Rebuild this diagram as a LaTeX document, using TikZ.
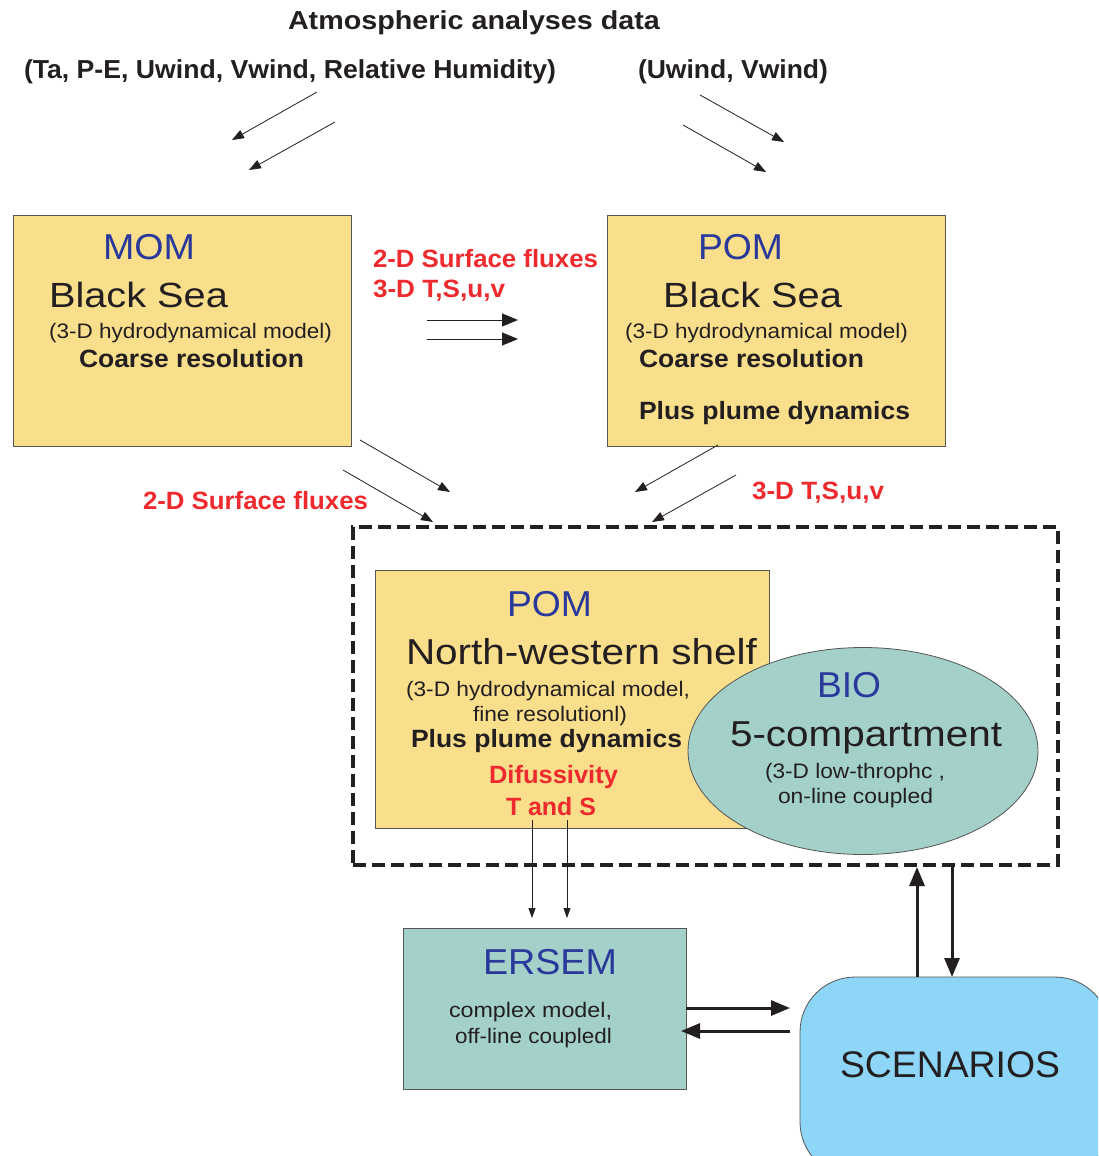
\documentclass[tikz,border=0pt]{standalone}
\usepackage{fontspec}
\setmainfont{Liberation Sans}
\usetikzlibrary{arrows.meta,shapes.geometric}
\definecolor{yfill}{HTML}{F9DE8C}
\definecolor{tfill}{HTML}{A3D0C9}
\definecolor{sfill}{HTML}{8DD6F7}
\definecolor{tblue}{HTML}{29399B}
\definecolor{tred}{HTML}{EE2A2E}
\definecolor{tblack}{HTML}{231F20}
\definecolor{edge}{HTML}{555555}
\newcommand\fw[2]{\resizebox{#1pt}{\height}{#2}}
\tikzset{
  txt/.style={anchor=base west, inner sep=0pt, outer sep=0pt, text=tblack},
  hb/.style={txt, font=\fontsize{26}{30}\selectfont\bfseries},
  hm/.style={txt, font=\fontsize{25}{30}\selectfont\bfseries},
  rb/.style={hm, text=tred},
  bl/.style={txt, text=tblue, font=\fontsize{36}{40}\selectfont},
  lg/.style={txt, font=\fontsize{35}{40}\selectfont},
  sm/.style={txt, font=\fontsize{21}{24}\selectfont},
  boxy/.style={draw=edge, line width=0.8pt, fill=yfill, inner sep=0pt, outer sep=0pt},
  boxt/.style={draw=edge, line width=0.8pt, fill=tfill, inner sep=0pt, outer sep=0pt},
  thin/.style={draw=tblack, line width=0.8pt, -{Triangle[length=12pt,width=9pt]}},
  thinv/.style={draw=tblack, line width=0.8pt, -{Triangle[length=10pt,width=7pt]}},
  mid/.style={draw=tblack, line width=1pt, -{Triangle[length=16pt,width=13pt]}},
  thick/.style={draw=tblack, line width=3pt, -{Triangle[length=19pt,width=15pt]}},
}
\begin{document}
\begin{tikzpicture}[x=1pt,y=-1pt]
\useasboundingbox (0,0) rectangle (1098,1156);
\clip (0,0) rectangle (1098,1156);
\fill[white] (0,0) rectangle (1098,1156);

% header
\node[hb] (title) at (288,30) {\fw{372}{Atmospheric analyses data}};
\node[hb] (vars1) at (24,78) {\fw{532}{(Ta, P-E, Uwind, Vwind, Relative Humidity)}};
\node[hb] (vars2) at (638,78) {\fw{190}{(Uwind, Vwind)}};

% top arrows
\coordinate (a1s) at (317,92);  \coordinate (a1e) at (232,140);
\coordinate (a2s) at (335,122); \coordinate (a2e) at (249,170);
\coordinate (a3s) at (700,95);  \coordinate (a3e) at (784,142);
\coordinate (a4s) at (683,125); \coordinate (a4e) at (766,172);
\draw[thin] (a1s) -- (a1e);
\draw[thin] (a2s) -- (a2e);
\draw[thin] (a3s) -- (a3e);
\draw[thin] (a4s) -- (a4e);

% MOM box
\node[boxy, minimum width=338pt, minimum height=231pt] (mom) at (182,330.5) {};
\node[bl] (momt) at (103,259) {\fw{92}{MOM}};
\node[lg] (momb) at (49,307) {\fw{179}{Black Sea}};
\node[sm] (momh) at (49,338) {\fw{283}{(3-D hydrodynamical model)}};
\node[hm] (momc) at (79,367) {\fw{225}{Coarse resolution}};

% POM Black Sea box
\node[boxy, minimum width=338pt, minimum height=231pt] (pom) at (776,330.5) {};
\node[bl] (pomt) at (698,259) {\fw{85}{POM}};
\node[lg] (pomb) at (663,307) {\fw{179}{Black Sea}};
\node[sm] (pomh) at (625,338) {\fw{283}{(3-D hydrodynamical model)}};
\node[hm] (pomc) at (639,367) {\fw{225}{Coarse resolution}};
\node[hm] (pomp) at (639,419) {\fw{271}{Plus plume dynamics}};

% between top boxes
\node[rb] (f1) at (373,267) {\fw{225}{2-D Surface fluxes}};
\node[rb] (f2) at (373,297) {\fw{132}{3-D T,S,u,v}};
\coordinate (h1s) at (427,320); \coordinate (h1e) at (518,320);
\coordinate (h2s) at (427,339); \coordinate (h2e) at (518,339);
\draw[mid] (h1s) -- (h1e);
\draw[mid] (h2s) -- (h2e);

% middle arrows
\coordinate (m1s) at (360,440); \coordinate (m1e) at (450,492);
\coordinate (m2s) at (343,470); \coordinate (m2e) at (433,522);
\coordinate (m3s) at (718,445); \coordinate (m3e) at (635,492);
\coordinate (m4s) at (736,475); \coordinate (m4e) at (652,522);
\draw[thin] (m1s) -- (m1e);
\draw[thin] (m2s) -- (m2e);
\draw[thin] (m3s) -- (m3e);
\draw[thin] (m4s) -- (m4e);
\node[rb] (f3) at (143,509) {\fw{225}{2-D Surface fluxes}};
\node[rb] (f4) at (752,499) {\fw{132}{3-D T,S,u,v}};

% dashed frame
\node[draw=tblack, line width=3.2pt, dash pattern=on 13pt off 6pt, minimum width=705pt, minimum height=338pt, inner sep=0pt] (frame) at (705.5,696) {};

% POM NW shelf box
\node[boxy, minimum width=394pt, minimum height=258pt] (nw) at (572,699) {};
\node[bl] (nwt) at (507,616) {\fw{85}{POM}};
\node[lg, font=\fontsize{36}{40}\selectfont] (nwn) at (406,664) {\fw{351}{North-western shelf}};
\node[sm] (nwh) at (406,696) {\fw{284}{(3-D hydrodynamical model,}};
\node[sm] (nwf) at (473,721) {\fw{154}{fine resolutionl)}};
\node[hm] (nwp) at (411,747) {\fw{271}{Plus plume dynamics}};
\node[rb] (nwd) at (489,783) {\fw{129}{Difussivity}};
\node[rb] (nws) at (506,815) {\fw{90}{T and S}};

% BIO ellipse
\node[ellipse, draw=edge, line width=0.8pt, fill=tfill, minimum width=350pt, minimum height=207pt, inner sep=0pt] (bio) at (863,751) {};
\node[bl] (biot) at (817,697) {\fw{64}{BIO}};
\node[lg, font=\fontsize{36}{40}\selectfont] (bioc) at (730,746) {\fw{272}{5-compartment}};
\node[sm] (biol) at (765,778) {\fw{180}{(3-D low-throphc ,}};
\node[sm] (bioo) at (778,803) {\fw{155}{on-line coupled}};

% ERSEM
\node[boxt, minimum width=283pt, minimum height=161pt] (ersem) at (544.5,1008.5) {};
\node[bl] (erst) at (483,974) {\fw{134}{ERSEM}};
\node[sm] (ersc) at (449,1017) {\fw{163}{complex model,}};
\node[sm] (erso) at (455,1043) {\fw{157}{off-line coupledl}};

% arrows NW -> ERSEM
\coordinate (v1s) at (532,820); \coordinate (v1e) at (532,918);
\coordinate (v2s) at (567,820); \coordinate (v2e) at (567,918);
\draw[thinv] (v1s) -- (v1e);
\draw[thinv] (v2s) -- (v2e);

% SCENARIOS
\node[draw=edge, line width=0.8pt, fill=sfill, rounded corners=55pt, minimum width=310pt, minimum height=200pt, inner sep=0pt] (scen) at (955,1077) {};
\node[txt, font=\fontsize{37}{40}\selectfont] (scent) at (840,1077) {\fw{220}{SCENARIOS}};

% ERSEM <-> SCENARIOS
\coordinate (e1s) at (686,1008); \coordinate (e1e) at (790,1008);
\coordinate (e2s) at (790,1031); \coordinate (e2e) at (681,1031);
\draw[thick] (e1s) -- (e1e);
\draw[thick] (e2s) -- (e2e);

% frame <-> SCENARIOS
\coordinate (u1s) at (917,977); \coordinate (u1e) at (917,867);
\coordinate (u2s) at (952,867); \coordinate (u2e) at (952,977);
\draw[thick] (u1s) -- (u1e);
\draw[thick] (u2s) -- (u2e);
\end{tikzpicture}
\end{document}
